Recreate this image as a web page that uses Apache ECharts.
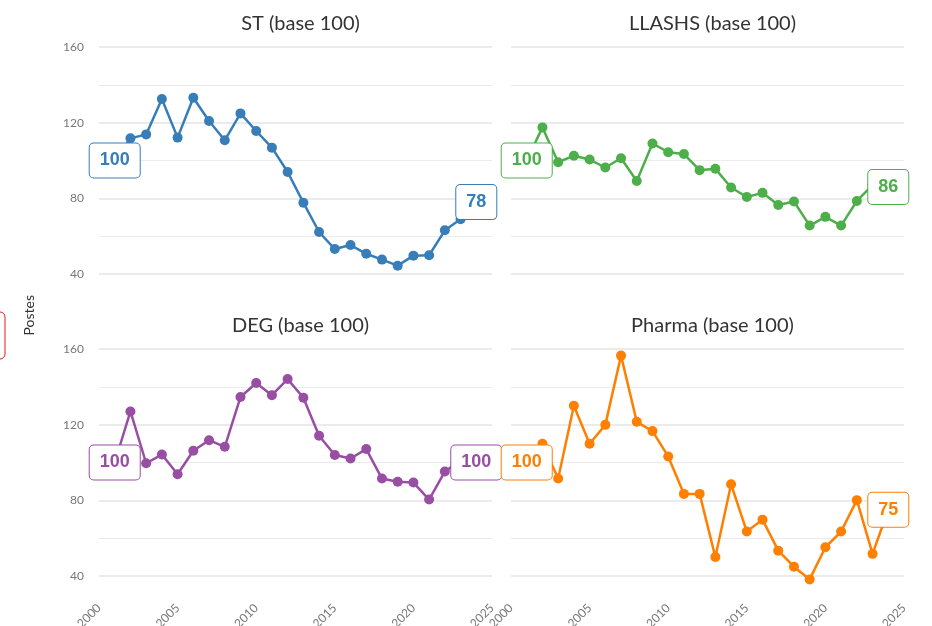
<!DOCTYPE html>
<html>
<head>
<meta charset="utf-8">
<script src="https://cdn.jsdelivr.net/npm/echarts@6/dist/echarts.min.js"></script>
<style>
html,body{margin:0;padding:0;background:#fff;}
#c{width:932px;height:626px;}
</style>
</head>
<body>
<div id="c"></div>
<script>
const years = [2001,2002,2003,2004,2005,2006,2007,2008,2009,2010,2011,2012,2013,2014,2015,2016,2017,2018,2019,2020,2021,2022,2023,2024];
const stValues     = [100,111.7,113.8,132.5,112.1,133.2,120.9,110.7,124.9,115.6,106.8,93.9,77.7,62.2,53.2,55.3,50.7,47.6,44.4,49.7,49.9,63.1,68.9,78];
const llashsValues = [100,117.5,99.1,102.5,100.5,96.3,101.2,89.2,109,104.4,103.4,94.9,95.6,85.7,80.7,82.9,76.5,78.3,65.6,70.2,65.6,78.6,87,86];
const degValues    = [100,127,99.6,104.2,93.8,106.2,111.8,108.3,134.6,142,135.6,144.1,134.2,114.1,104,102.1,107.1,91.5,89.8,89.4,80.4,95.2,101,100];
const pharmaValues = [100,109.9,91.5,130,109.9,119.9,156.5,121.5,116.6,103.2,83.4,83.4,50,88.5,63.5,69.8,53.4,44.9,38.2,55.2,63.5,80.1,51.7,75];
const titles = ['ST (base 100)','LLASHS (base 100)','DEG (base 100)','Pharma (base 100)'];
const colors = ['#377eb8','#4daf4a','#984ea3','#ff7f00'];
const yTicks = [40,80,120,160];
const xTicks = [2000,2005,2010,2015,2020,2025];

const allValues = [stValues, llashsValues, degValues, pharmaValues];
const grids = [
  {left:99, top:47, width:393, height:227},
  {left:511, top:47, width:393, height:227},
  {left:99, top:349, width:393, height:227},
  {left:511, top:349, width:393, height:227}
];
const font = 'Lato, "Open Sans", sans-serif';

const option = {
  animation:false,
  backgroundColor:'#fff',
  title: titles.map((t,i)=>({
    text:t,
    left: grids[i].left + grids[i].width/2,
    textAlign:'center',
    top: i<2 ? 9 : 311,
    textStyle:{fontFamily:font, fontSize:20, fontWeight:'normal', color:'#333'}
  })),
  grid: grids.map(g=>Object.assign({containLabel:false, outerBoundsMode:'none'}, g)),
  xAxis: grids.map((g,i)=>({
    type:'value', gridIndex:i, min:xTicks[0], max:xTicks[xTicks.length-1], interval:5,
    axisLine:{show:false}, axisTick:{show:false}, splitLine:{show:false},
    axisLabel:{show:i>=2, rotate:45, margin:30, color:'#777', fontFamily:font, fontSize:12,
               formatter:(v)=>String(v)}
  })),
  yAxis: grids.map((g,i)=>({
    type:'value', gridIndex:i, min:yTicks[0], max:yTicks[yTicks.length-1], interval:40,
    axisLine:{show:false}, axisTick:{show:false},
    axisLabel:{show:i%2===0, color:'#777', fontFamily:font, fontSize:12, margin:15},
    splitLine:{show:true, lineStyle:{color:'#ebebeb', width:2}},
    minorTick:{show:false, splitNumber:2},
    minorSplitLine:{show:true, lineStyle:{color:'#ebebeb', width:1}}
  })),
  graphic:[
    {type:'text', left:22, top:295, rotation:Math.PI/2,
     style:{text:'Postes', fill:'#333', font:'14px '+font}},
    {type:'rect', shape:{x:-30, y:312, width:35, height:47, r:5},
     style:{fill:'none', stroke:'#e41a1c', lineWidth:1}}
  ],
  series: allValues.map((vals,i)=>({
    type:'line', xAxisIndex:i, yAxisIndex:i, clip:false,
    symbol:'circle', symbolSize:10,
    lineStyle:{color:colors[i], width:2.5},
    itemStyle:{color:colors[i]},
    data: vals.map((v,k)=>{
      const item = {value:[years[k], v]};
      if (k===0 || k===vals.length-1) {
        item.label = {
          show:true, position:'inside',
          formatter:(p)=>String(Math.round(p.value[1])),
          color:colors[i], fontFamily:'"Liberation Sans", Arial, sans-serif',
          fontSize:18, fontWeight:'bold', lineHeight:20,
          backgroundColor:'#fff', borderColor:colors[i], borderWidth:1,
          borderRadius:4, padding:[7,10]
        };
      }
      return item;
    })
  }))
};

const chart = echarts.init(document.getElementById('c'), null, {renderer:'canvas'});
chart.setOption(option);
</script>
</body>
</html>
